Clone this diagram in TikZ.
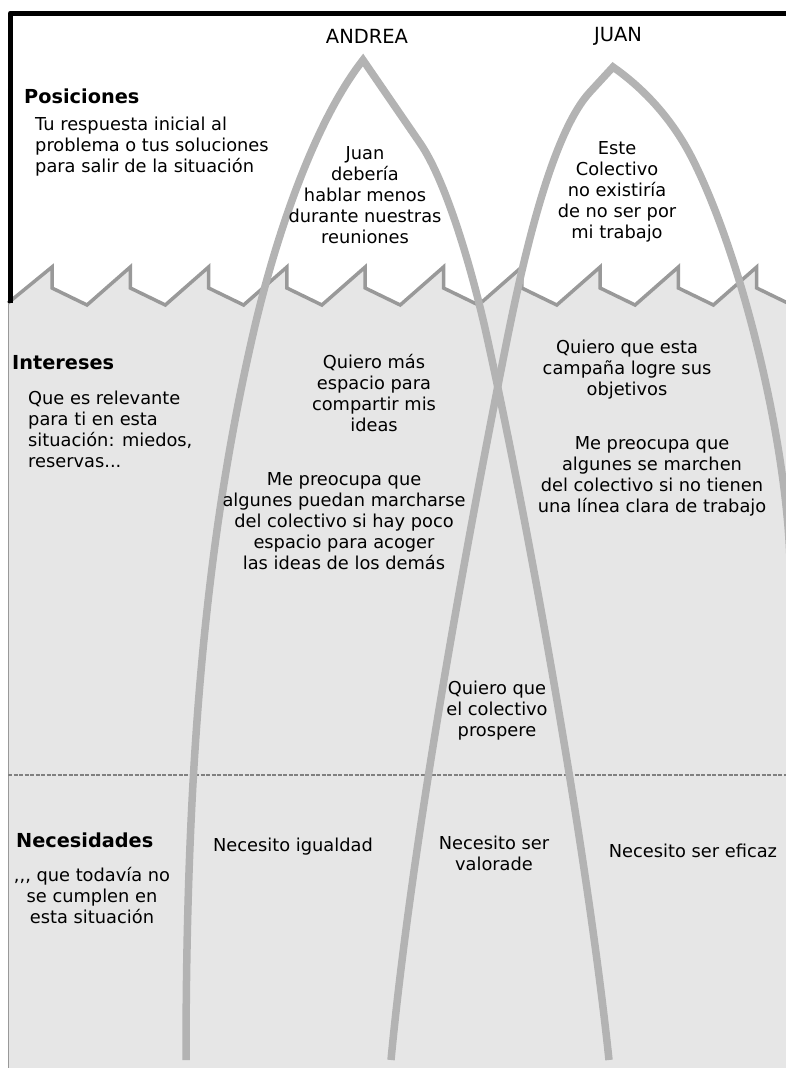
\documentclass[tikz,border=0pt]{standalone}
\usepackage{fontspec}
\setmainfont{DejaVu Sans}
\definecolor{archgray}{HTML}{B3B3B3}
\definecolor{seagray}{HTML}{E6E6E6}
\definecolor{wavegray}{HTML}{999999}
\definecolor{dashgray}{HTML}{808080}
\begin{document}
\begin{tikzpicture}[x=1pt,y=-1pt,
  txt/.style={font=\fontsize{17.8pt}{21pt}\selectfont, inner sep=0pt, align=center},
  lefttxt/.style={txt, align=left, anchor=west},
  nametxt/.style={font=\fontsize{19.5pt}{23pt}\selectfont, inner sep=0pt},
  head/.style={font=\fontsize{19.3pt}{23pt}\selectfont\bfseries, inner sep=0pt, anchor=west},
  arch/.style={draw=archgray, line width=7.5pt, line join=miter, line cap=butt},
  wave/.style={draw=wavegray, line width=3.5pt, line join=miter}]
\useasboundingbox (0,0) rectangle (786,1068);
\begin{scope}
\clip (0,0) rectangle (786,1068);
% sea below the waterline
\fill[seagray] (8,303)
  foreach \t in {52,130.3,208.6,286.9,365.2,443.5,521.8,600.1,678.4,756.7}
  { -- (\t,267) -- (\t,288) -- (\t+35,305) }
  -- (800,305) -- (800,1068) -- (8,1068) -- cycle;
% waterline
\draw[wave] (8,303)
  foreach \t in {52,130.3,208.6,286.9,365.2,443.5,521.8,600.1,678.4,756.7}
  { -- (\t,267) -- (\t,288) -- (\t+35,305) };
% frame
\draw[line width=5pt, line join=round] (10.5,303) -- (10.5,13) -- (800,13);
\draw[wavegray, line width=1.5pt] (8.5,303) -- (8.5,1068);
% boundary between interests and needs
\draw[dashgray, line width=1.2pt, dash pattern=on 4pt off 1.5pt] (8,775) -- (800,775);
% Andrea's iceberg
\draw[arch] (186,1060) .. controls (186,750) and (207.6,530) .. (254,330)
  .. controls (273.7,245) and (312,125) .. (363,60)
  -- (420,143) .. controls (447.5,183) and (473.8,277) .. (487,337)
  .. controls (531,537) and (588,860) .. (609,1060);
% Juan's iceberg
\draw[arch] (391,1060) .. controls (410,860) and (459,580) .. (507,340)
  .. controls (525,250) and (553,132) .. (590,92) -- (613,67)
  .. controls (660,100) and (683,140) .. (693,160)
  .. controls (743,260) and (786,440) .. (790,560);
\end{scope}
% names
\node[nametxt] (andrea) at (367,36) {ANDREA};
\node[nametxt] (juan) at (618,36) {JUAN};
% level headings
\node[head] (pos) at (24,96) {Posiciones};
\node[lefttxt] (posd) at (35,147) {Tu respuesta inicial al\\problema o tus soluciones\\para salir de la situación};
\node[head] (int) at (12,363) {Intereses};
\node[lefttxt] (intd) at (28,429.5) {Que es relevante\\para ti en esta\\situación: miedos,\\reservas...};
\node[head] (nec) at (16,840) {Necesidades};
\node[txt] (necd) at (92,895.5) {{,}{,}{,} que todavía no\\se cumplen en\\esta situación};
% Andrea
\node[txt] (apos) at (365,195.5) {Juan\\debería\\hablar menos\\durante nuestras\\reuniones};
\node[txt] (aint1) at (374,393) {Quiero más\\espacio para\\compartir mis\\ideas};
\node[txt] (aint2) at (344,521) {Me preocupa que\\algunes puedan marcharse\\del colectivo si hay poco\\espacio para acoger\\las ideas de los demás};
\node[txt] (anec) at (293,847) {Necesito igualdad};
% Juan
\node[txt] (jpos) at (617,192) {Este\\Colectivo\\no existiría\\de no ser por\\mi trabajo};
\node[txt] (jint1) at (627,369.5) {Quiero que esta\\campaña logre sus\\objetivos};
\node[txt] (jint2) at (652,476) {Me preocupa que\\algunes se marchen\\del colectivo si no tienen\\una línea clara de trabajo};
\node[txt] (jnec) at (693,851) {Necesito ser eficaz};
% shared
\node[txt] (shint) at (497,711) {Quiero que\\el colectivo\\prospere};
\node[txt] (shnec) at (494,853) {Necesito ser\\valorade};
\end{tikzpicture}
\end{document}
